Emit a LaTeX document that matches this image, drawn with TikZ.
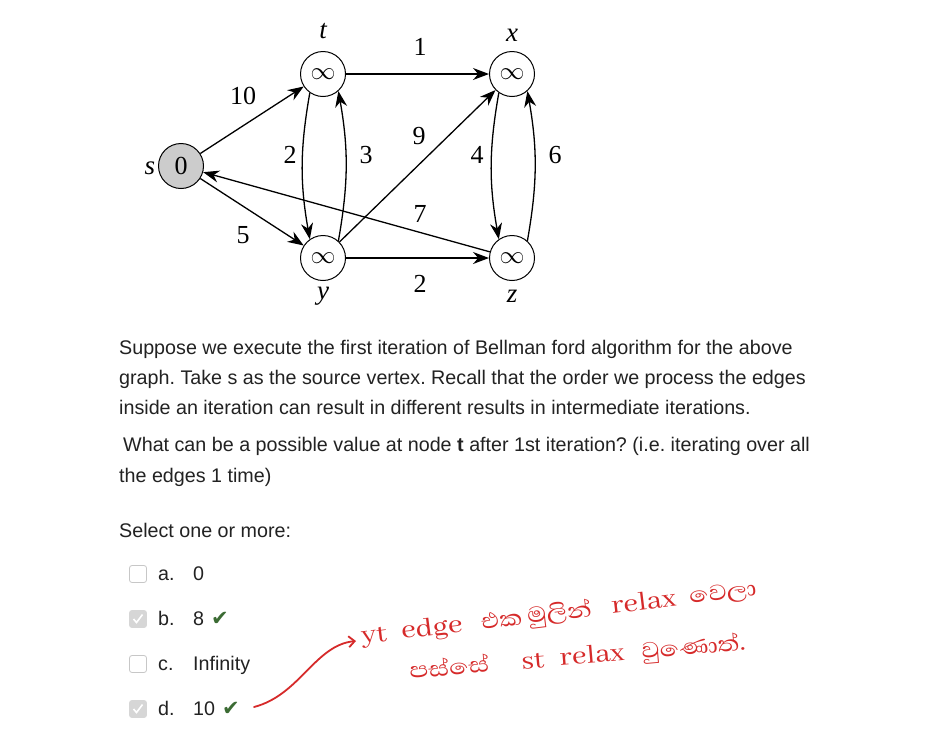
\documentclass[tikz,border=0pt]{standalone}
\usepackage{fontspec}
\setmainfont{Liberation Sans}
\newfontfamily\graphfont{Liberation Serif}
\newfontfamily\sinhalafont[Script=Sinhala,FakeStretch=1.15]{Abhaya Libre}
\newfontfamily\symfont{DejaVu Sans}
\usetikzlibrary{arrows.meta}
\frenchspacing

\definecolor{inkred}{HTML}{D62A2A}
\definecolor{okgreen}{HTML}{3B6B33}
\definecolor{textgray}{HTML}{222222}

\tikzset{
	vertex/.style={circle,draw,line width=1pt,minimum size=45pt,inner sep=0pt,font=\fontsize{26}{26}\selectfont},
	edge/.style={line width=1.3pt,-{Stealth[length=16pt,width=12pt]}},
	wt/.style={inner sep=0pt,font=\graphfont\fontsize{26}{26}\selectfont},
	vname/.style={inner sep=0pt,font=\graphfont\itshape\fontsize{27}{27}\selectfont},
	qtext/.style={anchor=base west,inner sep=0pt,text=textgray,font=\fontsize{19.7}{19.7}\selectfont},
	cbox/.style={draw=black!22,fill=white,rounded corners=2.5pt,minimum size=17pt,inner sep=0pt,line width=0.8pt},
	cboxon/.style={cbox,fill=black!16,draw=black!16},
	tick/.style={inner sep=0pt,text=okgreen,font=\symfont\fontsize{21}{21}\selectfont},
	hand/.style={inner sep=0pt,anchor=base west,text=inkred,font=\sinhalafont\fontsize{28}{28}\selectfont},
}

\begin{document}
\begin{tikzpicture}[x=1pt,y=-1pt]
	\fill[white] (0,0) rectangle (926,740);
	\useasboundingbox (0,0) rectangle (926,740);

	\node[vertex,fill=black!20] (s) at (181,166) {\graphfont 0};
	\node[vertex] (t) at (323,74) {$\infty$};
	\node[vertex] (x) at (512,74) {$\infty$};
	\node[vertex] (y) at (323,258) {$\infty$};
	\node[vertex] (z) at (512,258) {$\infty$};

	\node[vname] (sname) at (150,168) {s};
	\node[vname] (tname) at (323,31) {t};
	\node[vname] (xname) at (512,35) {x};
	\node[vname] (yname) at (323,296) {y};
	\node[vname] (zname) at (512,296) {z};

	\draw[edge] (s) -- (t) node[wt] (w10) at (243,96) {10};
	\draw[edge] (s) -- (y) node[wt] (w5) at (243,235) {5};
	\draw[edge] (t) -- (x) node[wt] (w1) at (420,47) {1};
	\draw[edge] (y) -- (z) node[wt] (w2b) at (420,284) {2};
	\draw[edge] (t.-125) to[bend right=10] (y.125) node[wt] (w2a) at (290,155) {2};
	\draw[edge] (y.48) to[bend right=10] (t.-48) node[wt] (w3) at (366,155) {3};
	\draw[edge] (x.-125) to[bend right=10] (z.125) node[wt] (w4) at (477,155) {4};
	\draw[edge] (z.48) to[bend right=10] (x.-48) node[wt] (w6) at (555,155) {6};
	\draw[edge] (y) -- (x) node[wt] (w9) at (419,136) {9};
	\draw[edge] (z) -- (s) node[wt] (w7) at (420,214) {7};

	\node[qtext] (q1) at (119,354) {Suppose we execute the first iteration of Bellman ford algorithm for the above};
	\node[qtext] (q2) at (119,384) {graph. Take s as the source vertex. Recall that the order we process the edges};
	\node[qtext] (q3) at (119,414) {inside an iteration can result in different results in intermediate iterations.};
	\node[qtext] (q4) at (123,451) {What can be a possible value at node \textbf{t} after 1st iteration? (i.e. iterating over all};
	\node[qtext] (q5) at (119,482) {the edges 1 time)};
	\node[qtext] (sel) at (119,537) {Select one or more:};

	\node[cbox] (cba) at (138,574) {};
	\node[cboxon] (cbb) at (138,619) {};
	\node[cbox] (cbc) at (138,664) {};
	\node[cboxon] (cbd) at (138,709) {};
	\draw[white,line width=1.6pt] (cbb.center) ++(-4.5,0) -- ++(3,3.5) -- ++(6,-8);
	\draw[white,line width=1.6pt] (cbd.center) ++(-4.5,0) -- ++(3,3.5) -- ++(6,-8);

	\node[qtext] (la) at (158,580) {a.};
	\node[qtext] (va) at (193,580) {0};
	\node[qtext] (lb) at (158,625) {b.};
	\node[qtext] (vb) at (193,625) {8};
	\node[qtext] (lc) at (158,670) {c.};
	\node[qtext] (vc) at (193,670) {Infinity};
	\node[qtext] (ld) at (158,715) {d.};
	\node[qtext] (vd) at (193,715) {10};
	\node[tick] (okb) at (220,619) {✔};
	\node[tick] (okd) at (231,709) {✔};

	\coordinate (hstart) at (254,707);
	\coordinate (htip) at (356,641);
	\draw[inkred,line width=1.8pt,line cap=round,-{Straight Barb[length=6pt,width=11pt]}] (hstart) .. controls (300,695) and (315,645) .. (htip);
	\node[hand,rotate=7] (yt) at (362,644) {yt};
	\node[hand,rotate=7] (edgeword) at (402,639) {edge};
	\node[hand,rotate=7] (eka) at (482,630) {එක};
	\node[hand,rotate=7] (mulin) at (528,624) {මුලින්};
	\node[hand,rotate=7] (relaxa) at (612,614) {relax};
	\node[hand,rotate=7] (vela) at (690,604) {වෙලා};
	\node[hand,rotate=5] (passe) at (410,679) {පස්සේ};
	\node[hand,rotate=5] (stword) at (522,670) {st};
	\node[hand,rotate=5] (relaxb) at (560,666) {relax};
	\node[hand,rotate=5] (vunoth) at (642,659) {වුණොත්.};
\end{tikzpicture}
\end{document}
